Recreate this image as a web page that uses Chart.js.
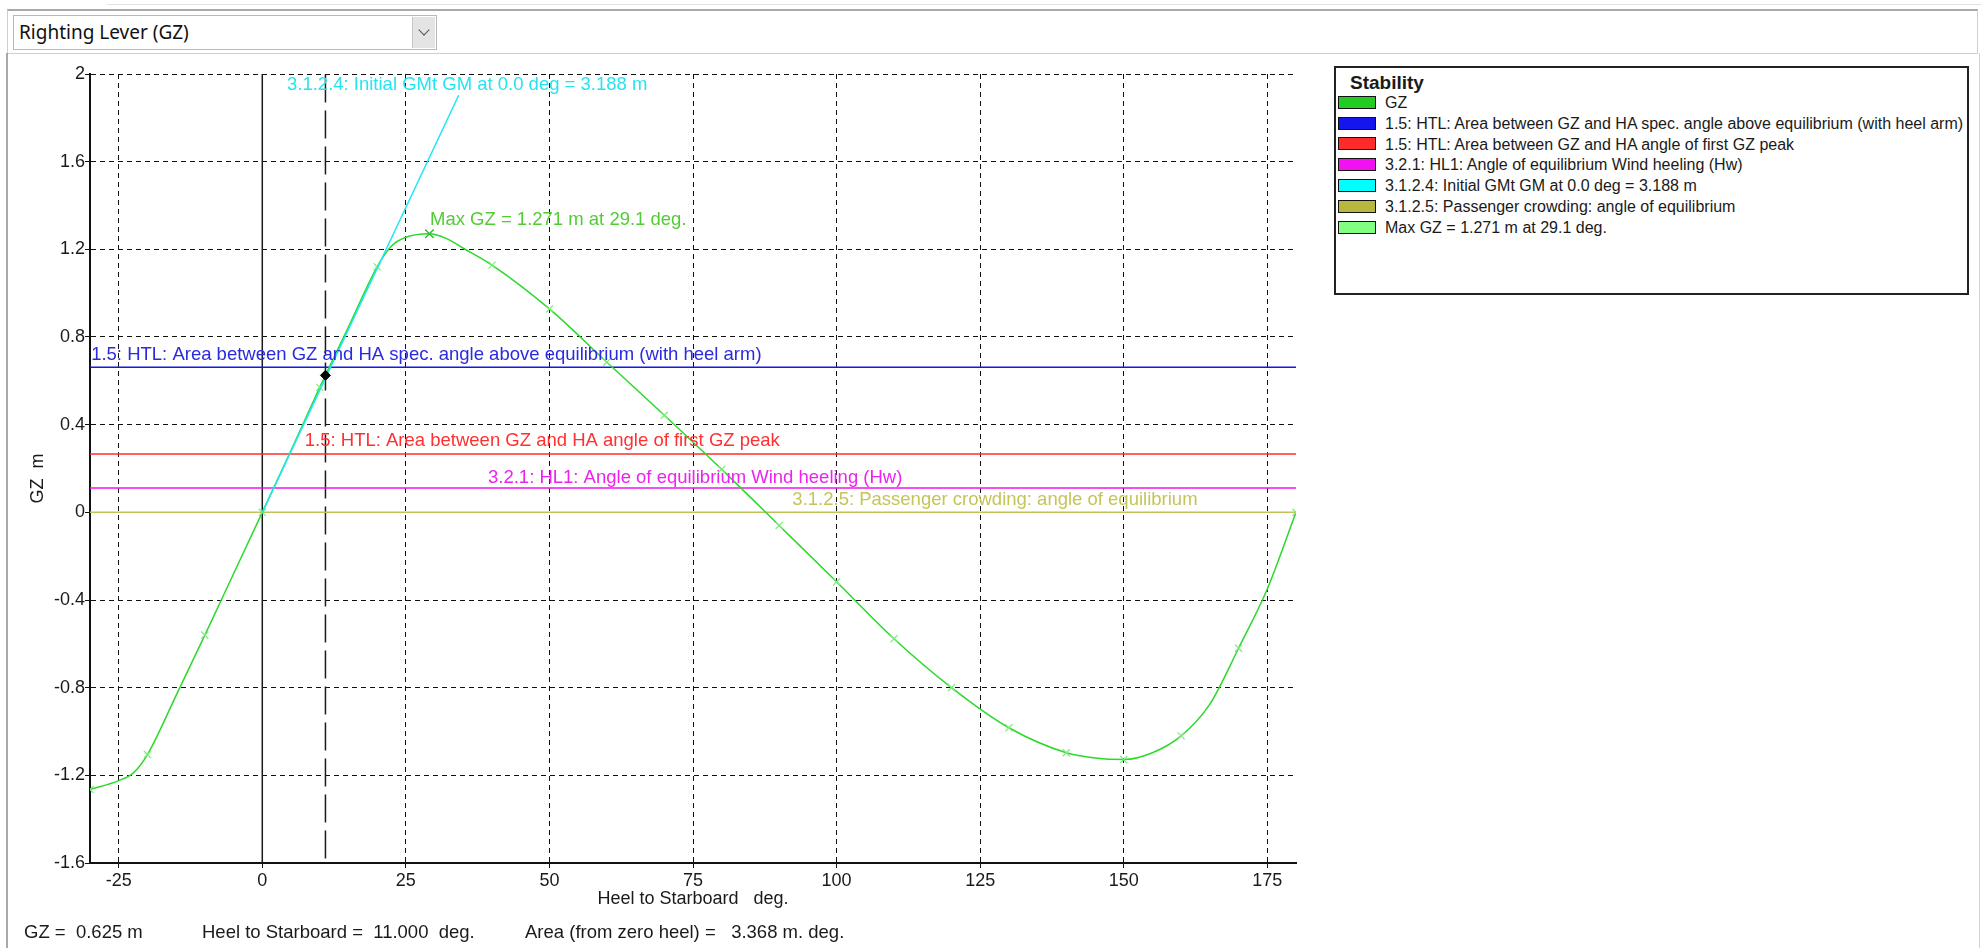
<!DOCTYPE html>
<html>
<head>
<meta charset="utf-8">
<title>Righting Lever (GZ)</title>
<script src="https://cdn.jsdelivr.net/npm/chart.js@4.4.1/dist/chart.umd.min.js"></script>
<style>
  html, body { margin: 0; padding: 0; background: #fff; }
  body { width: 1982px; height: 948px; position: relative; overflow: hidden;
         font-family: "Liberation Sans", Arial, sans-serif; color: #1a1a1a; }
  #topLine { position: absolute; left: 107px; top: 4px; width: 1875px; height: 1px; background: #e2e2e2; }
  #toolbar { position: absolute; left: 7px; top: 9px; width: 1969px; height: 42px;
             border: 1px solid #cfcfcf; border-top: 2px solid #a9a9a9; }
  #combo { position: absolute; left: 5px; top: 4px; width: 422px; height: 33px;
           border: 1px solid #b9b9b9; background: #fff; }
  #combo span { position: absolute; left: 5px; top: 3px; font: 19px "Noto Sans", "Open Sans", sans-serif; color: #111; }
  #comboBtn { position: absolute; right: 1px; top: 1px; width: 22px; height: 31px;
              background: #e4e4e4; border-left: 1px solid #c6c6c6; }
  #comboBtn::after { content: ''; position: absolute; left: 7px; top: 9px; width: 7px; height: 7px;
                     border-right: 1px solid #555; border-bottom: 1px solid #555; transform: rotate(45deg); }
  #frameLeft { position: absolute; left: 6px; top: 53px; width: 2px; height: 895px; background: #a9a9a9; }
  #frameRight { position: absolute; left: 1979px; top: 53px; width: 1px; height: 895px; background: #d4d4d4; }
  #chartBox { position: absolute; left: 0; top: 0; width: 1320px; height: 948px; }
  #legend { position: absolute; left: 1334px; top: 66px; width: 631px; height: 225px;
            border: 2px solid #222; background: #fff; }
  #legend .title { position: absolute; left: 14px; top: 4px; font-weight: bold; font-size: 19px; }
  #legend .row { position: absolute; left: 2px; height: 20px; font-size: 16px; line-height: 20px; white-space: nowrap; }
  #legend .sw { display: inline-block; width: 36px; height: 11px; border: 1px solid #111;
                vertical-align: middle; margin-right: 9px; margin-top: -3px; }
  #status span { position: absolute; top: 921px; font-size: 18.5px; white-space: pre; }
</style>
</head>
<body>
<div id="topLine"></div>
<div id="toolbar"><div id="combo"><span>Righting Lever (GZ)</span><div id="comboBtn"></div></div></div>
<div id="frameLeft"></div>
<div id="frameRight"></div>
<div id="chartBox"><canvas id="gzChart" width="1320" height="948"></canvas></div>
<div id="legend"></div>
<div id="status"></div>

<script>
// Righting lever (GZ) curve, stability criteria and readout

// GZ curve (heel deg, GZ m)
const gzHeel = [-30, -25, -22.5, -20, -15, -10, -5, 0, 5, 10, 15, 20, 22.5, 25, 29.1, 32, 35, 40,
                50, 60, 70, 80, 90, 100, 110, 120, 130, 140, 145, 150, 155, 160, 165, 170, 175, 180];
const gzValue = [-1.265, -1.224, -1.19, -1.105, -0.835, -0.56, -0.28, 0, 0.282, 0.57, 0.845, 1.12, 1.215, 1.255, 1.271, 1.25, 1.205, 1.128,
                 0.928, 0.685, 0.443, 0.196, -0.06, -0.317, -0.577, -0.80, -0.983, -1.097, -1.121, -1.128, -1.097, -1.02, -0.875, -0.62, -0.35, 0];

// heel-arm / criterion levels (m), drawn across the full heel range
const criteriaNames = [
  '1.5: HTL: Area between GZ and HA spec. angle above equilibrium (with heel arm)',
  '1.5: HTL: Area between GZ and HA angle of first GZ peak',
  '3.2.1: HL1: Angle of equilibrium Wind heeling (Hw)'
];
const criteriaLevels = [0.662, 0.266, 0.111];

// initial GM tangent line
const gmName = '3.1.2.4: Initial GMt GM at 0.0 deg = 3.188 m';
const gmHeel = [0, 34.2];
const gmValue = [0, 1.903];

const crowdingName = '3.1.2.5: Passenger crowding: angle of equilibrium';
const crowdingLevel = 0;

const maxGzHeel = 29.1;
const maxGzValue = 1.271;
const maxGzName = 'Max GZ = 1.271 m at 29.1 deg.';

// cursor readout
const cursorHeel = 11;
const cursorGz = 0.625;
const areaFromZero = 3.368;

// axes
const heelRange = [-30, 180];
const gzRange = [-1.6, 2];
const heelTicks = [-25, 0, 25, 50, 75, 100, 125, 150, 175];
const gzTicks = [-1.6, -1.2, -0.8, -0.4, 0, 0.4, 0.8, 1.2, 1.6, 2];

const criteriaColors = ['#1515ee', '#ff2b2b', '#f012f0'];
const criteriaTextColors = ['#2a2ae0', '#ff3030', '#ee22ee'];

// text placed on the plot: anchor in axis units, left/middle aligned
const plotNotes = [
  { text: gmName, heel: 4.3, gz: 1.949, color: '#25e4f2' },
  { text: maxGzName, heel: 29.2, gz: 1.333, color: '#52cc35' },
  { text: criteriaNames[0], heel: -29.8, gz: 0.718, color: criteriaTextColors[0] },
  { text: criteriaNames[1], heel: 7.4, gz: 0.325, color: criteriaTextColors[1] },
  { text: criteriaNames[2], heel: 39.3, gz: 0.156, color: criteriaTextColors[2] },
  { text: crowdingName, heel: 92.3, gz: 0.058, color: '#c4c45a' }
];

const xy = (xs, ys) => xs.map((x, i) => ({ x: x, y: ys[i] }));
const flat = (level) => [{ x: heelRange[0], y: level }, { x: heelRange[1], y: level }];

const notesPlugin = {
  id: 'plotNotes',
  afterDatasetsDraw(chart) {
    const { ctx, scales } = chart;
    ctx.save();
    ctx.font = '18.5px "Liberation Sans", Arial, sans-serif';
    ctx.textAlign = 'left';
    ctx.textBaseline = 'middle';
    plotNotes.forEach(n => {
      ctx.fillStyle = n.color;
      ctx.fillText(n.text, scales.x.getPixelForValue(n.heel), scales.y.getPixelForValue(n.gz));
    });
    ctx.restore();
  }
};

Chart.defaults.font.family = '"Liberation Sans", Arial, sans-serif';
Chart.defaults.font.size = 18;
Chart.defaults.color = '#1a1a1a';

const lineDefaults = { showLine: true, pointRadius: 0, borderWidth: 1.5, fill: false };

const chart = new Chart(document.getElementById('gzChart'), {
  type: 'scatter',
  data: {
    datasets: [
      Object.assign({}, lineDefaults, {
        label: 'GZ', legendColor: '#22cc22',
        data: xy(gzHeel, gzValue),
        borderColor: '#2bd92b',
        cubicInterpolationMode: 'monotone',
        pointStyle: 'crossRot',
        pointRadius: c => (gzHeel[c.dataIndex] % 10 === 0 ? 5 : 0),
        pointBorderColor: '#7eea7e',
        pointBorderWidth: 1.2,
        order: 3
      }),
      ...criteriaNames.map((name, i) => Object.assign({}, lineDefaults, {
        label: name, legendColor: criteriaColors[i],
        data: flat(criteriaLevels[i]),
        borderColor: criteriaColors[i],
        order: 5
      })),
      Object.assign({}, lineDefaults, {
        label: gmName, legendColor: '#00ffff',
        data: xy(gmHeel, gmValue),
        borderColor: '#1fe6f5',
        order: 2
      }),
      Object.assign({}, lineDefaults, {
        label: crowdingName, legendColor: '#b8b83e',
        data: flat(crowdingLevel),
        borderColor: '#c2c25a',
        order: 5
      }),
      {
        label: maxGzName, legendColor: '#80ff80',
        data: [{ x: maxGzHeel, y: maxGzValue }],
        pointStyle: 'crossRot', pointRadius: 6,
        pointBorderColor: '#2cc02c', pointBorderWidth: 1.5,
        order: 1
      },
      // helpers, not in the legend
      Object.assign({}, lineDefaults, {
        label: 'zero heel', helper: true,
        data: [{ x: 0, y: gzRange[0] }, { x: 0, y: gzRange[1] }],
        borderColor: '#1a1a1a', order: 6
      }),
      Object.assign({}, lineDefaults, {
        label: 'cursor', helper: true,
        data: [{ x: cursorHeel, y: gzRange[0] + 0.02 }, { x: cursorHeel, y: gzRange[1] }],
        borderColor: '#1a1a1a', borderDash: [28, 8], order: 6
      }),
      {
        label: 'cursor point', helper: true,
        data: [{ x: cursorHeel, y: cursorGz }],
        pointStyle: 'rectRot', pointRadius: 5,
        pointBackgroundColor: '#000', pointBorderColor: '#000',
        order: 0
      }
    ]
  },
  options: {
    responsive: false,
    animation: false,
    events: [],
    layout: { padding: { left: 0, top: 74, right: 24, bottom: 38 } },
    plugins: { legend: { display: false }, tooltip: { enabled: false } },
    scales: {
      x: {
        type: 'linear',
        min: heelRange[0], max: heelRange[1],
        afterBuildTicks: s => { s.ticks = heelTicks.map(v => ({ value: v })); },
        afterFit: s => { s.height = 47; },
        ticks: { padding: 2, color: '#1a1a1a', font: { size: 18 } },
        grid: { color: '#111', lineWidth: 1, tickLength: 5, tickColor: '#111', tickBorderDash: [] },
        border: { display: true, color: '#111', width: 2, dash: [5, 4] },
        title: { display: true, text: 'Heel to Starboard   deg.', padding: 0, font: { size: 18 }, color: '#1a1a1a' }
      },
      y: {
        type: 'linear',
        min: gzRange[0], max: gzRange[1],
        afterBuildTicks: s => { s.ticks = gzTicks.map(v => ({ value: v })); },
        afterFit: s => { s.width = 90; },
        ticks: { padding: 0, color: '#1a1a1a', font: { size: 18 },
                 callback: v => String(Math.round(v * 10) / 10) },
        grid: { color: '#111', lineWidth: 1, tickLength: 5, tickColor: '#111', tickBorderDash: [] },
        border: { display: true, color: '#111', width: 2, dash: [5, 4] },
        title: { display: true, text: 'GZ  m    ', padding: { top: 27, bottom: 0 }, font: { size: 18 }, color: '#1a1a1a' }
      }
    }
  },
  plugins: [notesPlugin]
});

// legend box built from the chart's own series
const legendEl = document.getElementById('legend');
let html = '<div class="title">Stability</div>';
chart.data.datasets.filter(d => !d.helper).forEach((d, i) => {
  html += '<div class="row" style="top:' + (25 + i * 20.8) + 'px"><span class="sw" style="background:' +
          d.legendColor + '"></span>' + d.label + '</div>';
});
legendEl.innerHTML = html;

// readout line under the chart
const statusEl = document.getElementById('status');
statusEl.innerHTML =
  '<span style="left:24px">GZ =  ' + cursorGz.toFixed(3) + ' m</span>' +
  '<span style="left:202px">Heel to Starboard =  ' + cursorHeel.toFixed(3) + '  deg.</span>' +
  '<span style="left:525px">Area (from zero heel) =   ' + areaFromZero.toFixed(3) + ' m. deg.</span>';
</script>
</body>
</html>
